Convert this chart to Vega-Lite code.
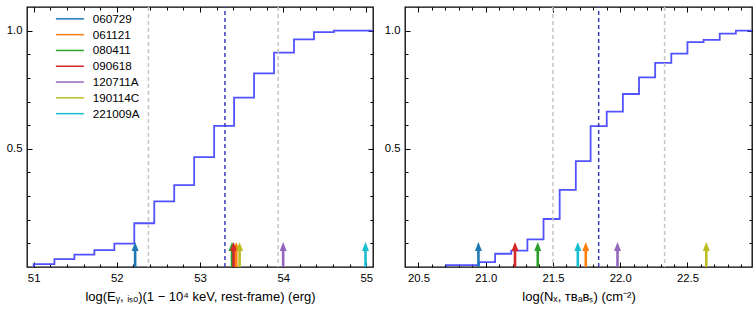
{
  "$schema": "https://vega.github.io/schema/vega-lite/v6.json",
  "padding": {"left": 5, "top": 5, "right": 0, "bottom": 0},
  "spacing": 8,
  "config": {
    "view": {"stroke": "#000", "strokeWidth": 1.3},
    "axis": {"domain": false, "grid": false, "tickColor": "#000", "tickWidth": 1, "labelColor": "#000", "labelFont": "Liberation Sans", "labelFontSize": 11.3, "titleFont": "Liberation Sans", "titleFontSize": 13, "titleFontWeight": "normal", "titleColor": "#000"}
  },
  "datasets": {
    "stepE": [
      {"x": 51.0, "cdf": 0}, {"x": 51.0, "cdf": 0.012}, {"x": 51.25, "cdf": 0.033}, {"x": 51.49, "cdf": 0.052},
      {"x": 51.73, "cdf": 0.071}, {"x": 51.97, "cdf": 0.099}, {"x": 52.21, "cdf": 0.185}, {"x": 52.45, "cdf": 0.278},
      {"x": 52.69, "cdf": 0.346}, {"x": 52.93, "cdf": 0.465}, {"x": 53.17, "cdf": 0.597}, {"x": 53.41, "cdf": 0.717},
      {"x": 53.65, "cdf": 0.819}, {"x": 53.89, "cdf": 0.907}, {"x": 54.13, "cdf": 0.963}, {"x": 54.37, "cdf": 0.994},
      {"x": 54.61, "cdf": 1.0}, {"x": 55.08, "cdf": 1.0}
    ],
    "stepN": [
      {"x": 20.71, "cdf": 0}, {"x": 20.71, "cdf": 0.008}, {"x": 20.95, "cdf": 0.021}, {"x": 21.07, "cdf": 0.056},
      {"x": 21.19, "cdf": 0.069}, {"x": 21.31, "cdf": 0.117}, {"x": 21.43, "cdf": 0.203}, {"x": 21.55, "cdf": 0.326},
      {"x": 21.67, "cdf": 0.448}, {"x": 21.78, "cdf": 0.596}, {"x": 21.9, "cdf": 0.657}, {"x": 22.02, "cdf": 0.732},
      {"x": 22.14, "cdf": 0.802}, {"x": 22.26, "cdf": 0.864}, {"x": 22.38, "cdf": 0.903}, {"x": 22.5, "cdf": 0.951},
      {"x": 22.62, "cdf": 0.961}, {"x": 22.74, "cdf": 0.987}, {"x": 22.86, "cdf": 1.0}, {"x": 22.98, "cdf": 1.0}
    ],
    "boundsE": [{"x": 52.38}, {"x": 53.94}],
    "medianE": [{"x": 53.3}],
    "boundsN": [{"x": 21.5}, {"x": 22.33}],
    "medianN": [{"x": 21.84}],
    "grbE": [
      {"grb": "060729", "x": 52.22}, {"grb": "061121", "x": 53.436}, {"grb": "080411", "x": 53.385},
      {"grb": "090618", "x": 53.404}, {"grb": "120711A", "x": 54.0}, {"grb": "190114C", "x": 53.476},
      {"grb": "221009A", "x": 54.99}
    ],
    "grbN": [
      {"grb": "060729", "x": 20.946}, {"grb": "061121", "x": 21.744}, {"grb": "080411", "x": 21.387},
      {"grb": "090618", "x": 21.218}, {"grb": "120711A", "x": 21.98}, {"grb": "190114C", "x": 22.64},
      {"grb": "221009A", "x": 21.685}
    ]
  },
  "resolve": {"scale": {"color": "independent", "fill": "independent"}, "legend": {"color": "independent", "fill": "independent"}},
  "hconcat": [
    {
      "width": 346, "height": 260,
      "resolve": {"axis": {"x": "independent", "y": "independent"}},
      "layer": [
        {
          "data": {"name": "stepE"},
          "mark": {"type": "line", "interpolate": "step-after", "color": "#5252ff", "strokeWidth": 1.8, "clip": true},
          "encoding": {
            "x": {"field": "x", "type": "quantitative", "scale": {"domain": [50.92, 55.08], "nice": false, "zero": false},
                  "axis": {"orient": "bottom", "values": [51, 52, 53, 54, 55], "tickSize": -5, "labelPadding": 10, "titlePadding": 7,
                           "title": "log(Eᵧ, ᵢₛₒ)(1 − 10⁴ keV, rest-frame) (erg)"}},
            "y": {"field": "cdf", "type": "quantitative", "scale": {"domain": [0, 1.1], "nice": false, "zero": false},
                  "axis": {"orient": "left", "values": [0.5, 1.0], "format": ".1f", "tickSize": -5, "labelPadding": 10, "title": null}},
            "order": {"value": null}
          }
        },
        {
          "data": {"name": "boundsE"},
          "mark": {"type": "rule", "color": "#c4c4c4", "strokeWidth": 1.5, "strokeDash": [4, 3]},
          "encoding": {
            "x": {"field": "x", "type": "quantitative",
                  "axis": {"orient": "top", "values": [51, 52, 53, 54, 55], "tickSize": -5, "labels": false, "title": null}}
          }
        },
        {
          "data": {"name": "medianE"},
          "mark": {"type": "rule", "color": "#3c3cb4", "strokeWidth": 1.5, "strokeDash": [4, 3]},
          "encoding": {
            "x": {"field": "x", "type": "quantitative", "axis": null},
            "y": {"datum": 0, "type": "quantitative", "axis": {"orient": "right", "values": [0.5, 1.0], "tickSize": -5, "labels": false, "title": null}},
            "y2": {"datum": 1.1}
          }
        },
        {
          "data": {"name": "grbE"},
          "mark": {"type": "rule", "strokeWidth": 2.6},
          "encoding": {
            "x": {"field": "x", "type": "quantitative",
                  "axis": {"orient": "bottom", "values": [51, 51.2, 51.4, 51.6, 51.8, 52, 52.2, 52.4, 52.6, 52.8, 53, 53.2, 53.4, 53.6, 53.8, 54, 54.2, 54.4, 54.6, 54.8, 55], "tickSize": -3, "labels": false, "title": null}},
            "y": {"datum": 0, "type": "quantitative",
                  "axis": {"orient": "left", "values": [0.1, 0.2, 0.3, 0.4, 0.5, 0.6, 0.7, 0.8, 0.9, 1.0], "tickSize": -3, "labels": false, "title": null}},
            "y2": {"datum": 0.07},
            "color": {"field": "grb", "type": "nominal",
                      "scale": {"domain": ["060729", "061121", "080411", "090618", "120711A", "190114C", "221009A"],
                                "range": ["#1f77b4", "#ff7f0e", "#2ca02c", "#d62728", "#9467bd", "#bcbd22", "#17becf"]},
                      "legend": {"orient": "none", "legendX": 37, "legendY": 6, "title": null, "padding": 0,
                                 "symbolType": "M-4,0H4", "symbolSize": 49, "symbolStrokeWidth": 1.5,
                                 "labelFont": "Liberation Sans", "labelFontSize": 11.7, "labelColor": "#000",
                                 "labelOffset": 17, "rowPadding": 2.8}}
          }
        },
        {
          "data": {"name": "grbE"},
          "mark": {"type": "point", "filled": true, "opacity": 1, "size": 81, "shape": "M0,-1L0.78,1L-0.78,1Z"},
          "encoding": {
            "x": {"field": "x", "type": "quantitative",
                  "axis": {"orient": "top", "values": [51, 51.2, 51.4, 51.6, 51.8, 52, 52.2, 52.4, 52.6, 52.8, 53, 53.2, 53.4, 53.6, 53.8, 54, 54.2, 54.4, 54.6, 54.8, 55], "tickSize": -3, "labels": false, "title": null}},
            "y": {"datum": 0.087, "type": "quantitative",
                  "axis": {"orient": "right", "values": [0.1, 0.2, 0.3, 0.4, 0.5, 0.6, 0.7, 0.8, 0.9, 1.0], "tickSize": -3, "labels": false, "title": null}},
            "fill": {"field": "grb", "type": "nominal",
                     "scale": {"domain": ["060729", "061121", "080411", "090618", "120711A", "190114C", "221009A"],
                               "range": ["#1f77b4", "#ff7f0e", "#2ca02c", "#d62728", "#9467bd", "#bcbd22", "#17becf"]},
                     "legend": null}
          }
        }
      ]
    },
    {
      "width": 347, "height": 260,
      "resolve": {"axis": {"x": "independent", "y": "independent"}},
      "layer": [
        {
          "data": {"name": "stepN"},
          "mark": {"type": "line", "interpolate": "step-after", "color": "#5252ff", "strokeWidth": 1.8, "clip": true},
          "encoding": {
            "x": {"field": "x", "type": "quantitative", "scale": {"domain": [20.4, 22.98], "nice": false, "zero": false},
                  "axis": {"orient": "bottom", "values": [20.5, 21, 21.5, 22, 22.5], "tickSize": -5, "labelPadding": 10, "titlePadding": 7,
                           "title": "log(Nₓ, ᴛʙₐʙₛ) (cm⁻²)"}},
            "y": {"field": "cdf", "type": "quantitative", "scale": {"domain": [0, 1.1], "nice": false, "zero": false},
                  "axis": {"orient": "left", "values": [0.5, 1.0], "format": ".1f", "tickSize": -5, "labelPadding": 10, "title": null}},
            "order": {"value": null}
          }
        },
        {
          "data": {"name": "boundsN"},
          "mark": {"type": "rule", "color": "#c4c4c4", "strokeWidth": 1.5, "strokeDash": [4, 3]},
          "encoding": {
            "x": {"field": "x", "type": "quantitative",
                  "axis": {"orient": "top", "values": [20.5, 21, 21.5, 22, 22.5], "tickSize": -5, "labels": false, "title": null}}
          }
        },
        {
          "data": {"name": "medianN"},
          "mark": {"type": "rule", "color": "#3c3cb4", "strokeWidth": 1.5, "strokeDash": [4, 3]},
          "encoding": {
            "x": {"field": "x", "type": "quantitative", "axis": null},
            "y": {"datum": 0, "type": "quantitative", "axis": {"orient": "right", "values": [0.5, 1.0], "tickSize": -5, "labels": false, "title": null}},
            "y2": {"datum": 1.1}
          }
        },
        {
          "data": {"name": "grbN"},
          "mark": {"type": "rule", "strokeWidth": 2.6},
          "encoding": {
            "x": {"field": "x", "type": "quantitative",
                  "axis": {"orient": "bottom", "values": [20.5, 20.6, 20.7, 20.8, 20.9, 21, 21.1, 21.2, 21.3, 21.4, 21.5, 21.6, 21.7, 21.8, 21.9, 22, 22.1, 22.2, 22.3, 22.4, 22.5, 22.6, 22.7, 22.8, 22.9], "tickSize": -3, "labels": false, "title": null}},
            "y": {"datum": 0, "type": "quantitative",
                  "axis": {"orient": "left", "values": [0.1, 0.2, 0.3, 0.4, 0.5, 0.6, 0.7, 0.8, 0.9, 1.0], "tickSize": -3, "labels": false, "title": null}},
            "y2": {"datum": 0.07},
            "color": {"field": "grb", "type": "nominal",
                      "scale": {"domain": ["060729", "061121", "080411", "090618", "120711A", "190114C", "221009A"],
                                "range": ["#1f77b4", "#ff7f0e", "#2ca02c", "#d62728", "#9467bd", "#bcbd22", "#17becf"]},
                      "legend": null}
          }
        },
        {
          "data": {"name": "grbN"},
          "mark": {"type": "point", "filled": true, "opacity": 1, "size": 81, "shape": "M0,-1L0.78,1L-0.78,1Z"},
          "encoding": {
            "x": {"field": "x", "type": "quantitative",
                  "axis": {"orient": "top", "values": [20.5, 20.6, 20.7, 20.8, 20.9, 21, 21.1, 21.2, 21.3, 21.4, 21.5, 21.6, 21.7, 21.8, 21.9, 22, 22.1, 22.2, 22.3, 22.4, 22.5, 22.6, 22.7, 22.8, 22.9], "tickSize": -3, "labels": false, "title": null}},
            "y": {"datum": 0.087, "type": "quantitative",
                  "axis": {"orient": "right", "values": [0.1, 0.2, 0.3, 0.4, 0.5, 0.6, 0.7, 0.8, 0.9, 1.0], "tickSize": -3, "labels": false, "title": null}},
            "fill": {"field": "grb", "type": "nominal",
                     "scale": {"domain": ["060729", "061121", "080411", "090618", "120711A", "190114C", "221009A"],
                               "range": ["#1f77b4", "#ff7f0e", "#2ca02c", "#d62728", "#9467bd", "#bcbd22", "#17becf"]},
                     "legend": null}
          }
        }
      ]
    }
  ]
}
